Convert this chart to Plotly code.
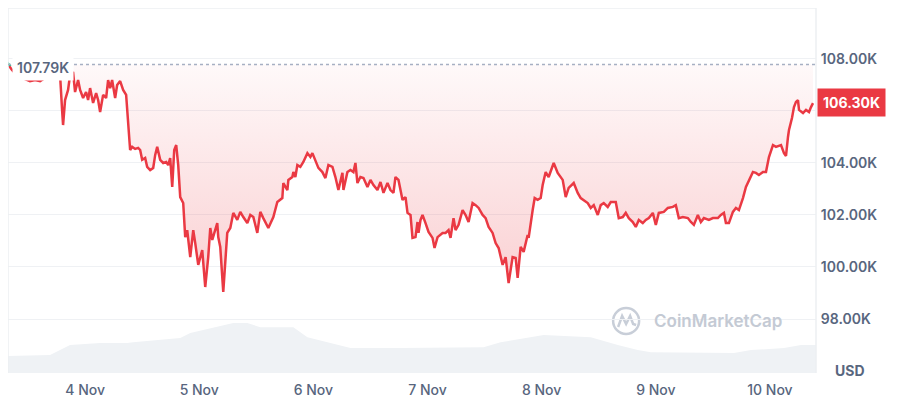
import datetime as dt
import plotly.graph_objects as go

BASE = dt.datetime(2025, 11, 3, 0, 0)

# price: hours since 3 Nov 00:00, price in thousands USD
price_hours = [7.79, 8.63, 9.47, 10.32, 11.37, 12.42, 13.47, 14.53, 15.58, 16.63, 17.68, 18.74, 19.16, 19.37, 19.79,
               20.42, 20.84, 21.47, 21.89, 22.53, 22.95, 23.58, 24.21, 24.63, 25.05, 25.68, 26.32, 26.74, 27.16, 27.79,
               28.42, 28.84, 29.26, 29.68, 30.32, 30.74, 31.37, 32.00, 32.63, 33.05, 33.47, 33.89, 34.53, 35.16, 35.58,
               36.00, 36.63, 37.05, 37.68, 38.32, 38.74, 39.16, 39.79, 40.42, 41.05, 41.47, 41.89, 42.32, 42.74, 43.16,
               43.58, 44.00, 44.63, 45.05, 45.47, 46.11, 46.74, 47.16, 47.79, 48.63, 49.26, 49.89, 50.32, 50.74, 51.37,
               51.79, 52.00, 52.42, 53.05, 53.89, 54.53, 55.16, 56.00, 56.63, 57.26, 58.11, 58.74, 59.37, 60.21, 60.84,
               61.47, 62.53, 63.58, 64.42, 65.47, 65.68, 66.53, 66.74, 67.58, 67.79, 68.21, 68.63, 69.26, 69.89, 70.74,
               71.37, 71.79, 72.42, 73.05, 73.89, 74.53, 75.16, 76.00, 76.63, 77.26, 78.11, 78.32, 79.16, 79.79, 80.42,
               80.84, 81.26, 81.89, 82.53, 83.37, 84.00, 84.63, 85.47, 86.11, 86.74, 87.58, 88.21, 88.84, 89.26, 89.89,
               90.74, 91.37, 91.79, 92.42, 92.84, 93.47, 93.89, 94.11, 94.53, 94.95, 95.58, 96.21, 97.05, 97.47, 98.11,
               99.16, 99.79, 100.42, 100.84, 101.47, 101.89, 102.53, 103.37, 104.00, 104.63, 105.47, 106.11, 106.74,
               107.58, 108.21, 108.84, 109.68, 110.32, 110.95, 111.79, 112.42, 113.05, 113.89, 114.53, 114.95, 115.58,
               116.21, 117.05, 117.26, 118.11, 118.53, 119.16, 119.79, 120.21, 120.84, 121.47, 122.53, 123.37, 124.42,
               125.05, 125.68, 126.74, 127.58, 128.21, 128.84, 129.68, 130.32, 130.95, 131.79, 132.42, 133.05, 133.89,
               134.53, 135.58, 136.21, 137.05, 137.68, 138.32, 139.16, 139.79, 140.42, 141.26, 141.89, 142.53, 143.37,
               144.00, 144.63, 145.68, 146.53, 147.58, 148.21, 148.84, 149.68, 150.74, 151.37, 152.00, 152.84, 153.47,
               154.11, 155.16, 156.00, 157.05, 157.68, 158.32, 158.74, 159.37, 160.21, 160.84, 161.47, 162.32, 162.95,
               163.58, 164.42, 165.05, 165.68, 166.53, 167.16, 167.79, 168.63, 169.26, 170.32, 170.95, 171.37, 171.79,
               172.00, 172.63, 173.05, 173.47, 173.89, 174.11, 174.95, 175.58, 176.21, 176.63, 177.05]
price_k = [107.79, 107.58, 107.42, 107.31, 107.23, 107.15, 107.19, 107.15, 107.27, 107.31, 107.35, 107.38, 106.04, 105.46,
           106.42, 106.81, 107.38, 107.50, 106.73, 107.19, 106.81, 106.50, 106.73, 106.42, 106.88, 106.31, 106.69, 106.42,
           105.96, 106.62, 106.50, 107.19, 106.88, 107.19, 106.50, 107.00, 107.15, 106.81, 106.62, 105.46, 104.50, 104.62,
           104.54, 104.58, 104.50, 104.12, 104.19, 103.85, 103.73, 103.81, 104.31, 104.62, 104.12, 104.00, 104.04, 103.92,
           104.19, 103.08, 104.50, 104.69, 103.92, 102.69, 102.46, 101.15, 101.42, 100.38, 101.42, 100.92, 100.08, 100.65,
           99.23, 100.38, 101.50, 101.04, 101.50, 101.69, 101.15, 100.77, 99.04, 101.31, 101.50, 102.08, 101.81, 102.12,
           101.92, 101.69, 102.00, 101.92, 101.31, 102.12, 101.88, 101.50, 101.92, 102.50, 102.65, 103.23, 102.96, 103.35,
           103.46, 103.65, 103.46, 103.92, 103.85, 104.04, 104.38, 104.23, 104.38, 104.12, 103.81, 103.65, 103.42, 103.92,
           103.85, 103.46, 102.96, 103.62, 102.96, 103.65, 103.73, 103.65, 104.00, 103.23, 103.46, 103.42, 103.08, 103.35,
           103.15, 102.96, 103.27, 102.85, 103.23, 102.96, 102.85, 103.46, 103.35, 102.58, 102.69, 102.08, 102.00, 101.12,
           101.15, 101.73, 101.31, 101.81, 102.00, 101.69, 101.35, 101.12, 100.73, 101.15, 101.31, 101.31, 101.42, 101.12,
           101.88, 101.42, 101.62, 102.19, 102.00, 101.73, 102.46, 102.38, 102.27, 102.00, 101.88, 101.54, 101.31, 100.92,
           100.73, 100.08, 100.38, 99.38, 100.38, 100.35, 99.58, 100.77, 100.58, 101.23, 101.12, 102.19, 102.65, 102.58,
           102.65, 103.15, 103.65, 103.46, 104.00, 103.62, 103.35, 102.69, 103.04, 103.23, 102.85, 102.65, 102.58, 102.46,
           102.27, 102.38, 102.00, 102.38, 102.46, 102.31, 102.50, 102.50, 101.88, 101.92, 102.08, 101.88, 101.73, 101.54,
           101.81, 101.69, 101.81, 101.88, 102.08, 101.62, 102.08, 102.12, 102.27, 102.31, 102.38, 101.88, 101.92, 101.88,
           101.73, 101.62, 102.00, 101.73, 101.88, 101.81, 101.88, 101.88, 102.00, 102.08, 101.69, 101.69, 102.12, 102.27,
           102.19, 102.65, 103.08, 103.35, 103.65, 103.62, 103.54, 103.65, 103.65, 104.23, 104.69, 104.62, 104.69, 104.38,
           104.27, 105.00, 105.27, 105.73, 106.15, 106.35, 106.42, 106.04, 105.92, 106.04, 105.96, 106.15, 106.30]

# volume (24h, billions USD, estimated)
volume_hours = [7.58, 16.63, 18.74, 20.84, 27.16, 32.84, 34.11, 44.00, 46.11, 50.95, 55.16, 58.11, 60.84, 67.79,
                70.74, 74.95, 79.79, 90.32, 100.84, 107.79, 111.37, 116.21, 120.42, 130.32, 136.00, 140.21, 142.95,
                160.42, 164.00, 170.95, 174.53, 177.68]
volume_b = [41, 43, 55, 67, 72, 72, 74, 84, 96, 108, 120, 120, 110, 110, 86, 74, 60, 60, 62, 62, 74, 84, 91, 86,
            67, 55, 50, 48, 55, 60, 67, 67]

open_price_k = 107.79
last_price_k = 106.30
y_ticks_k = [98, 100, 102, 104, 106, 108]
y_tick_labels = ["98.00K", "100.00K", "102.00K", "104.00K", "", "108.00K"]
axis_start_h, axis_end_h = 7.79, 177.68

RED = "#EA3943"
GREY = "#58667E"


def to_time(hours):
    return [BASE + dt.timedelta(hours=h) for h in hours]


px_ = to_time(price_hours)
py_ = [v * 1000 for v in price_k]
vx = to_time(volume_hours)
vy = volume_b

fig = go.Figure()

# volume area
fig.add_trace(go.Scatter(x=vx, y=vy, yaxis="y2", mode="lines", line=dict(width=0, color="#EFF2F5"),
                         fill="tozeroy", fillcolor="#EFF2F5", hoverinfo="skip", showlegend=False))

# baseline (opening price) for fill
fig.add_trace(go.Scatter(x=[px_[0], px_[-1]], y=[open_price_k * 1000] * 2, mode="lines",
                         line=dict(width=0, color="rgba(0,0,0,0)"), hoverinfo="skip", showlegend=False))

fig.add_trace(go.Scatter(
    x=px_, y=py_, mode="lines", line=dict(color=RED, width=2.5), fill="tonexty",
    fillgradient=dict(type="vertical",
                      colorscale=[[0, "rgba(234,57,67,0.24)"], [1, "rgba(234,57,67,0.03)"]]),
    showlegend=False))

# high marker
fig.add_trace(go.Scatter(x=[px_[0]], y=[open_price_k * 1000], mode="markers", cliponaxis=False,
                         marker=dict(symbol="triangle-up", size=6, color="#16C784"),
                         hoverinfo="skip", showlegend=False))

tickvals = [v * 1000 for v in y_ticks_k]

fig.update_layout(
    width=900, height=400,
    margin=dict(l=0, r=92, t=0, b=35),
    paper_bgcolor="white", plot_bgcolor="white",
    font=dict(family="Inter, 'Noto Sans', sans-serif", color=GREY),
    xaxis=dict(type="date", range=[BASE + dt.timedelta(hours=axis_start_h), BASE + dt.timedelta(hours=axis_end_h)],
               tick0="2025-11-04", dtick=86400000, tickformat="%-d %b", showgrid=False, zeroline=False,
               ticks="outside", ticklen=4, tickcolor="rgba(0,0,0,0)", showline=False, automargin=False,
               tickfont=dict(size=14, color=GREY, weight=500)),
    yaxis=dict(side="right", range=[95923, 109961], tickvals=tickvals, ticktext=y_tick_labels,
               showgrid=True, gridcolor="#EFF1F4", gridwidth=1, zeroline=False, automargin=False,
               ticks="outside", ticklen=1, tickcolor="rgba(0,0,0,0)",
               tickfont=dict(size=14, color=GREY, weight=600)),
    yaxis2=dict(overlaying="y", range=[0, 876], visible=False),
    shapes=[
        dict(type="line", xref="paper", yref="paper", x0=0, x1=0, y0=0, y1=1, line=dict(color="#EDEFF2", width=1.5)),
        dict(type="line", xref="paper", yref="paper", x0=1, x1=1, y0=0, y1=1, line=dict(color="#EDEFF2", width=1.5)),
        dict(type="line", xref="paper", yref="paper", x0=0, x1=1, y0=1, y1=1, line=dict(color="#EDEFF2", width=1.5)),
        dict(type="line", xref="paper", yref="y", x0=0, x1=1, y0=open_price_k * 1000, y1=open_price_k * 1000,
             line=dict(color="#A6B0C3", width=1.5, dash="dot")),
        dict(type="circle", xref="paper", yref="paper", xsizemode="pixel", ysizemode="pixel",
             xanchor=0.765, yanchor=0.1425, x0=-13, x1=13, y0=-13, y1=13,
             line=dict(color="#C8CED8", width=2.5), layer="below"),
        dict(type="path", xref="paper", yref="paper", xsizemode="pixel", ysizemode="pixel",
             xanchor=0.765, yanchor=0.1425, path="M -8 -6 L -4 5 L 0 -3 L 4 5 L 7 -3 L 10 -4",
             line=dict(color="#C8CED8", width=2.5), layer="below"),
    ],
    annotations=[
        dict(xref="paper", yref="y", x=0, y=open_price_k * 1000, xanchor="left", yanchor="middle",
             xshift=4, yshift=-3, text=f"{open_price_k:.2f}K", showarrow=False,
             bgcolor="white", borderpad=4,
             font=dict(size=14, color=GREY, weight=600)),
        dict(xref="paper", yref="y", x=1, y=last_price_k * 1000, xanchor="left", yanchor="middle",
             xshift=1, yshift=1, text=f"{last_price_k:.2f}K", showarrow=False,
             bgcolor=RED, borderpad=5, font=dict(size=14, color="white", weight=700)),
        dict(xref="paper", yref="paper", x=1, y=0, xanchor="center", yanchor="middle",
             xshift=34, yshift=3, text="USD", showarrow=False,
             font=dict(size=14, color=GREY, weight=700)),
        dict(xref="paper", yref="paper", x=0.797, y=0.1425, xanchor="left", yanchor="middle",
             text="CoinMarketCap", showarrow=False,
             font=dict(size=17, color="#C4CAD4", weight=600)),
    ],
)

fig.write_html("out.html")
